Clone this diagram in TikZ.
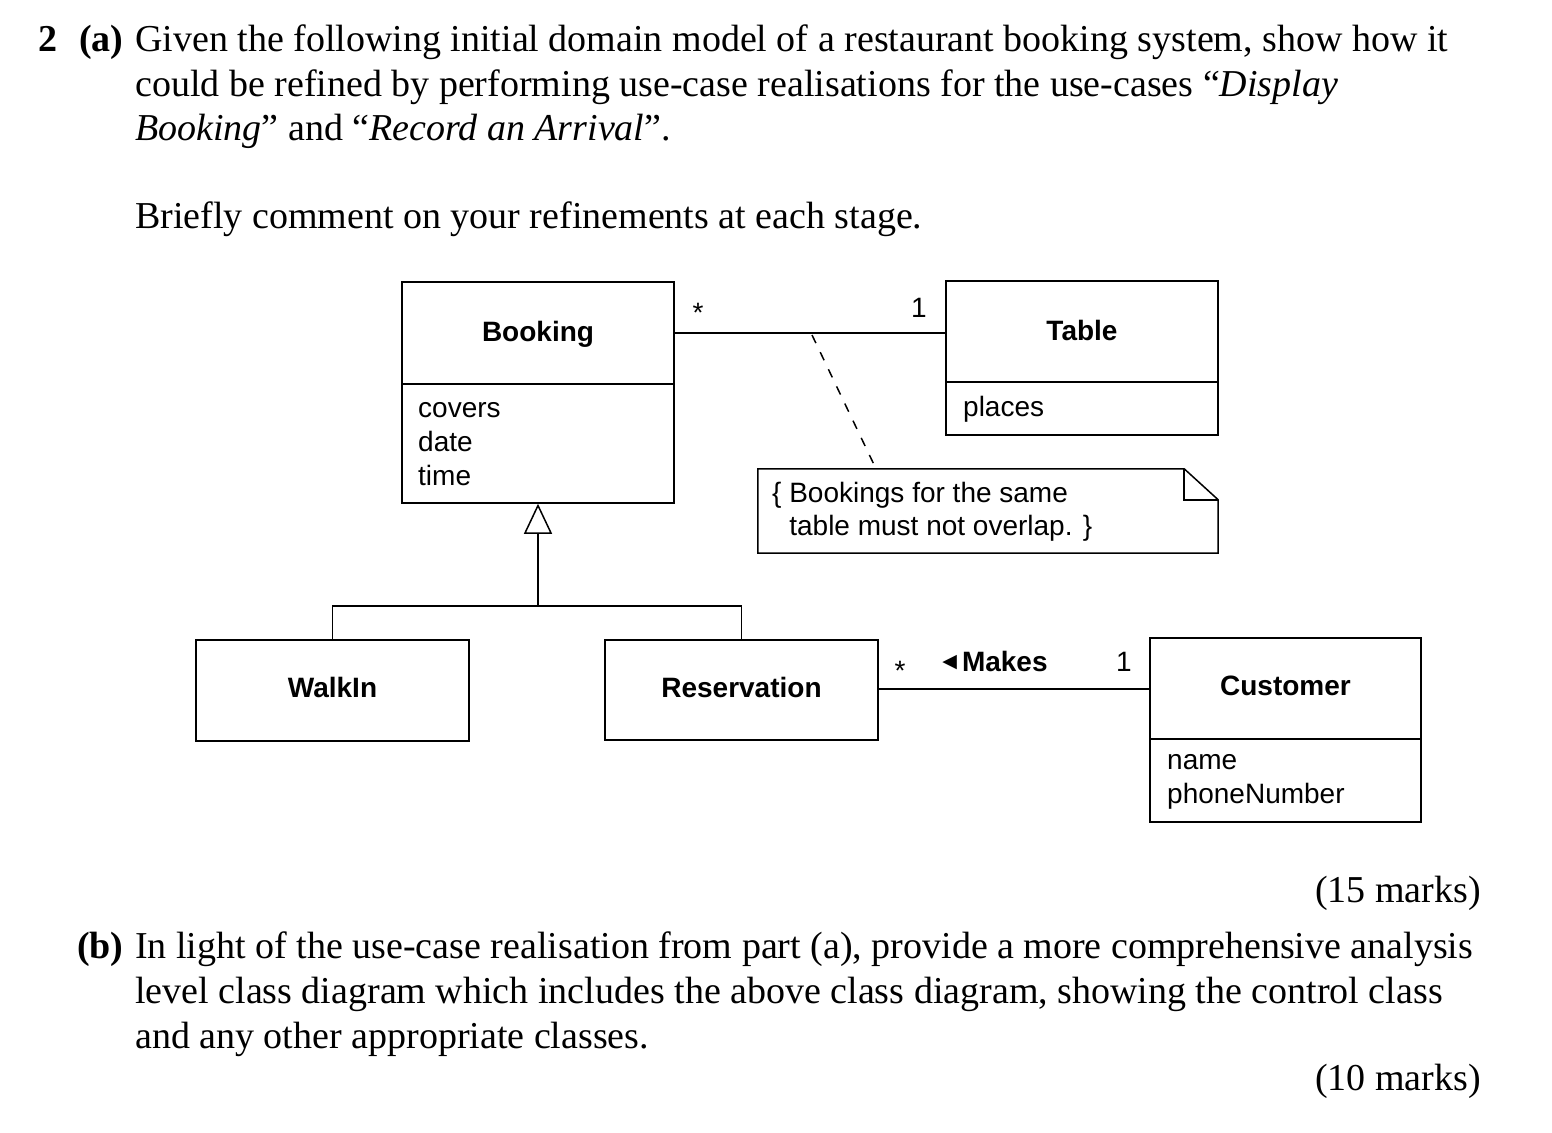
\documentclass[tikz,border=0pt]{standalone}
\usepackage{fontspec}
\setmainfont{Liberation Serif}
\newfontfamily\diagfont{Liberation Sans}
\newfontfamily\symfont{DejaVu Sans}
\usetikzlibrary{arrows.meta}
\begin{document}
\begin{tikzpicture}[x=1pt,y=-1pt,
  box/.style={draw,line width=1.5pt,inner sep=0pt},
  ln/.style={line width=1.5pt},
  cname/.style={font=\diagfont\bfseries\fontsize{28}{33}\selectfont,anchor=base,inner sep=0pt},
  attr/.style={font=\diagfont\fontsize{28}{33}\selectfont,anchor=base west,inner sep=0pt},
  mult/.style={font=\diagfont\fontsize{28}{33}\selectfont,anchor=base,inner sep=0pt},
  body/.style={font=\fontsize{38}{44}\selectfont,anchor=base west,inner sep=0pt},
  marks/.style={font=\fontsize{38}{44}\selectfont,anchor=base east,inner sep=0pt},
  gen/.style={ln,-{Triangle[open,length=30pt,width=28pt,line width=1.5pt]}},
  notedash/.style={line width=1.5pt,dash pattern=on 9pt off 10pt}]
\useasboundingbox (0,0) rectangle (1552,1132);
\fill[white] (0,0) rectangle (1552,1132);

% question text
\node[body] (q2) at (38,52) {\textbf{2}};
\node[body] (qa) at (79,52) {\textbf{(a)}};
\node[body] (l1) at (135,52) {Given the following initial domain model of a restaurant booking system, show how it};
\node[body] (l2) at (135,96) {could be refined by performing use-case realisations for the use-cases “\textit{Display}};
\node[body] (l3) at (135,140) {\textit{Booking}” and “\textit{Record an Arrival}”.};
\node[body] (l4) at (135,228) {Briefly comment on your refinements at each stage.};
\node[marks] (m15) at (1481,902) {(15 marks)};
\node[body] (qb) at (77,958) {\textbf{(b)}};
\node[body] (b1) at (135,958) {In light of the use-case realisation from part (a), provide a more comprehensive analysis};
\node[body] (b2) at (135,1003) {level class diagram which includes the above class diagram, showing the control class};
\node[body] (b3) at (135,1048) {and any other appropriate classes.};
\node[marks] (m10) at (1481,1090) {(10 marks)};

% classes
\node[box,minimum width=272pt,minimum height=221pt] (booking) at (538,392.5) {};
\draw[ln] (booking.west |- 0,384) -- (booking.east |- 0,384);
\node[cname] (bookingname) at (538,341) {Booking};
\node[attr] (bk1) at (418,417) {covers};
\node[attr] (bk2) at (418,451) {date};
\node[attr] (bk3) at (418,485) {time};

\node[box,minimum width=272pt,minimum height=154pt] (table) at (1082,358) {};
\draw[ln] (table.west |- 0,382) -- (table.east |- 0,382);
\node[cname] (tablename) at (1082,340) {Table};
\node[attr] (tb1) at (963,416) {places};

\node[box,minimum width=273pt,minimum height=101pt] (walkin) at (332.5,690.5) {};
\node[cname] (walkinname) at (332.5,697) {WalkIn};

\node[box,minimum width=273pt,minimum height=100pt] (reservation) at (741.5,690) {};
\node[cname] (resname) at (741.5,697) {Reservation};

\node[box,minimum width=271pt,minimum height=184pt] (customer) at (1285.5,730) {};
\draw[ln] (customer.west |- 0,739) -- (customer.east |- 0,739);
\node[cname] (custname) at (1285.5,695) {Customer};
\node[attr] (cu1) at (1167,769) {name};
\node[attr] (cu2) at (1167,803) {phoneNumber};

% note
\node[minimum width=460pt,minimum height=84pt,inner sep=0pt] (note) at (988,511) {};
\draw[ln] (note.north west) -- ([xshift=-34pt]note.north east) -- ([yshift=-31pt]note.north east)
  -- (note.south east) -- (note.south west) -- cycle;
\draw[ln] ([xshift=-34pt]note.north east) -- ([xshift=-34pt,yshift=-31pt]note.north east) -- ([yshift=-31pt]note.north east);
\node[attr] (nt1) at (772,502) {\{ Bookings for the same};
\node[attr] (nt2) at (772,535) {\phantom{\{ }table must not overlap. \}};

% associations
\draw[ln] (booking.east |- 0,333) -- (table.west |- 0,333);
\node[mult] (m1) at (698,322) {*};
\node[mult] (m2) at (919,317) {1};
\coordinate (assocpt) at (812,335);
\draw[notedash] (assocpt) -- (note.north -| 876,0);

\draw[ln] (reservation.east |- 0,689) -- (customer.west |- 0,689);
\node[mult] (m3) at (900,680) {*};
\node[mult] (makes) at (995,671) {\raisebox{4pt}{\symfont\fontsize{19}{19}\selectfont ◀}\hspace{5pt}\textbf{Makes}};
\node[mult] (m4) at (1124,671) {1};

% generalisation
\coordinate (gj) at (538,606);
\draw[ln] (walkin.north) |- (gj) -| (reservation.north);
\draw[gen] (gj) -- (booking.south);
\end{tikzpicture}
\end{document}
